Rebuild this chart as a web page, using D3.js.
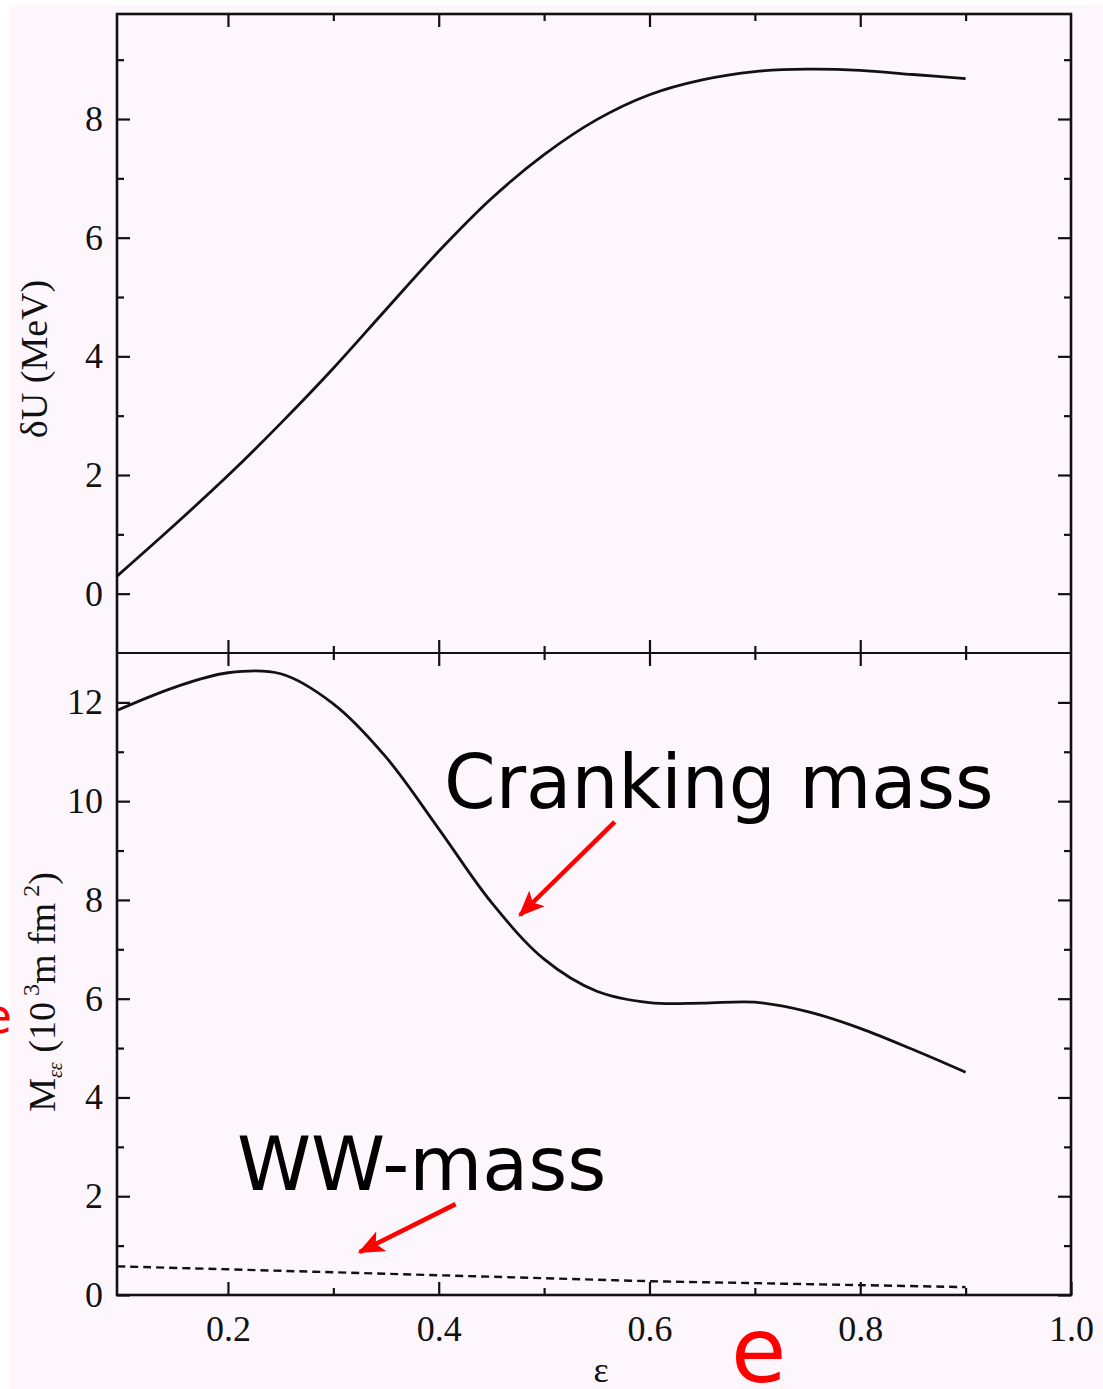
<!DOCTYPE html>
<html><head><meta charset="utf-8">
<script src="https://cdn.jsdelivr.net/npm/d3@7"></script>
<style>
body{margin:0;background:#ffffff;}
svg{display:block;}
.tick text{font-family:"Liberation Serif","Times New Roman",serif;font-size:36px;fill:#111;}
.tick line{stroke:#111;stroke-width:2.2px;}
</style>
</head><body>
<svg id="chart" width="1103" height="1389"></svg>
<script>
// ---------- data ----------
const epsilon = [0.095,0.15,0.20,0.25,0.30,0.35,0.40,0.45,0.50,0.55,0.60,0.65,0.70,0.75,0.80,0.85,0.90];
const deltaU = [0.30,1.17,1.99,2.87,3.80,4.79,5.77,6.66,7.40,7.99,8.41,8.66,8.80,8.84,8.82,8.75,8.68];
const crankingMass = [11.84,12.31,12.60,12.58,11.97,10.89,9.44,7.95,6.80,6.15,5.92,5.91,5.93,5.74,5.40,4.97,4.51];
const wwEpsilon = [0.095,0.20,0.30,0.40,0.50,0.60,0.70,0.80,0.90];
const wwMass = [0.58,0.52,0.46,0.40,0.34,0.28,0.24,0.20,0.16];
const xMajorTicks = [0.2,0.4,0.6,0.8,1.0];
const xTickLabels = ["0.2","0.4","0.6","0.8","1.0"];
const xMinorTicks = [0.3,0.5,0.7,0.9];
const topYMajor = [0,2,4,6,8];
const topYMinor = [1,3,5,7,9];
const botYMajor = [0,2,4,6,8,10,12];
const botYMinor = [1,3,5,7,9,11];

(function(){
// ---------- layout ----------
const svg = d3.select("#chart");
const W = 1103, H = 1389;
const pL = 117, pR = 1071, pT = 14, pM = 653, pB = 1295;

svg.append("rect").attr("x",10).attr("y",5).attr("width",W-10).attr("height",H-5).attr("fill","#fdf7fd");

const x = d3.scaleLinear().domain([0.0947,1.0]).range([pL,pR]);
const yTop = d3.scaleLinear().domain([-1,9.77]).range([pM,pT]);
const yBot = d3.scaleLinear().domain([0,13]).range([pB,pM]);

const MAJ = 13, MIN = 7;

function addAxis(axis, tx, ty){
  const g = svg.append("g").attr("transform",`translate(${tx},${ty})`).call(axis);
  g.select(".domain").remove();
  return g;
}
const xFmt = d => xTickLabels[xMajorTicks.indexOf(d)];

// top panel axes
addAxis(d3.axisLeft(yTop).tickValues(topYMajor).tickSize(-MAJ).tickPadding(14).tickFormat(d3.format("d")), pL, 0);
addAxis(d3.axisLeft(yTop).tickValues(topYMinor).tickSize(-MIN).tickFormat(""), pL, 0);
addAxis(d3.axisRight(yTop).tickValues(topYMajor).tickSize(-MAJ).tickFormat(""), pR, 0);
addAxis(d3.axisRight(yTop).tickValues(topYMinor).tickSize(-MIN).tickFormat(""), pR, 0);
addAxis(d3.axisTop(x).tickValues(xMajorTicks.slice(0,4)).tickSize(-MAJ).tickFormat(""), 0, pT);
addAxis(d3.axisTop(x).tickValues(xMinorTicks).tickSize(-MIN).tickFormat(""), 0, pT);
addAxis(d3.axisBottom(x).tickValues(xMajorTicks.slice(0,4)).tickSize(-MAJ).tickFormat(""), 0, pM);
addAxis(d3.axisBottom(x).tickValues(xMinorTicks).tickSize(-MIN).tickFormat(""), 0, pM);

// bottom panel axes
addAxis(d3.axisLeft(yBot).tickValues(botYMajor).tickSize(-MAJ).tickPadding(14).tickFormat(d3.format("d")), pL, 0);
addAxis(d3.axisLeft(yBot).tickValues(botYMinor).tickSize(-MIN).tickFormat(""), pL, 0);
addAxis(d3.axisRight(yBot).tickValues(botYMajor).tickSize(-MAJ).tickFormat(""), pR, 0);
addAxis(d3.axisRight(yBot).tickValues(botYMinor).tickSize(-MIN).tickFormat(""), pR, 0);
addAxis(d3.axisTop(x).tickValues(xMajorTicks.slice(0,4)).tickSize(-MAJ).tickFormat(""), 0, pM);
addAxis(d3.axisTop(x).tickValues(xMinorTicks).tickSize(-MIN).tickFormat(""), 0, pM);
addAxis(d3.axisBottom(x).tickValues(xMajorTicks).tickSize(-MAJ).tickPadding(20).tickFormat(xFmt), 0, pB);
addAxis(d3.axisBottom(x).tickValues(xMinorTicks).tickSize(-MIN).tickFormat(""), 0, pB);

// frames
svg.append("rect").attr("x",pL).attr("y",pT).attr("width",pR-pL).attr("height",pB-pT)
  .attr("fill","none").attr("stroke","#111").attr("stroke-width",2.6);
svg.append("line").attr("x1",pL).attr("x2",pR).attr("y1",pM).attr("y2",pM)
  .attr("stroke","#111").attr("stroke-width",2.2);

// curves
const lineTop = d3.line().x((d,i)=>x(epsilon[i])).y(d=>yTop(d)).curve(d3.curveCatmullRom.alpha(0.5));
const lineBot = d3.line().x((d,i)=>x(epsilon[i])).y(d=>yBot(d)).curve(d3.curveCatmullRom.alpha(0.5));
const lineWW = d3.line().x((d,i)=>x(wwEpsilon[i])).y(d=>yBot(d)).curve(d3.curveCatmullRom.alpha(0.5));

svg.append("path").attr("d",lineTop(deltaU)).attr("fill","none").attr("stroke","#111").attr("stroke-width",2.8);
svg.append("path").attr("d",lineBot(crankingMass)).attr("fill","none").attr("stroke","#111").attr("stroke-width",2.8);
svg.append("path").attr("d",lineWW(wwMass)).attr("fill","none").attr("stroke","#111").attr("stroke-width",2.4)
  .attr("stroke-dasharray","8,5");

// axis titles
const serif = '"Liberation Serif","Times New Roman",serif';
svg.append("text").attr("transform","translate(47,359) rotate(-90)").attr("text-anchor","middle")
  .attr("font-family",serif).attr("font-size",38).attr("fill","#111").text("δU (MeV)");

const t2 = svg.append("text").attr("transform","translate(55,992) rotate(-90)").attr("text-anchor","middle")
  .attr("font-family",serif).attr("font-size",38).attr("fill","#111");
t2.append("tspan").text("M");
t2.append("tspan").attr("font-size",20).attr("font-style","italic").attr("dy",7).text("εε");
t2.append("tspan").attr("dy",-7).text(" (10");
t2.append("tspan").attr("font-size",24).attr("dy",-16).text(" 3");
t2.append("tspan").attr("dy",16).text("m fm");
t2.append("tspan").attr("font-size",24).attr("dy",-16).text(" 2");
t2.append("tspan").attr("dy",16).text(")");

svg.append("text").attr("x",601).attr("y",1382).attr("text-anchor","middle")
  .attr("font-family",serif).attr("font-size",36).attr("fill","#111").text("ε");

// annotations
const sans = '"DejaVu Sans",Verdana,sans-serif';
svg.append("text").attr("x",x(0.405)).attr("y",yBot(9.86)).attr("font-family",sans).attr("font-size",74)
  .attr("fill","#000").text("Cranking mass");
svg.append("text").attr("x",x(0.2085)).attr("y",yBot(2.13)).attr("font-family",sans).attr("font-size",75)
  .attr("fill","#000").text("WW-mass");

const defs = svg.append("defs");
defs.append("marker").attr("id","ah").attr("markerUnits","userSpaceOnUse")
  .attr("markerWidth",26).attr("markerHeight",22).attr("refX",24).attr("refY",11).attr("orient","auto")
  .append("path").attr("d","M0,0 L26,11 L0,22 L6,11 Z").attr("fill","#ff0000");

svg.append("line").attr("x1",x(0.567)).attr("y1",yBot(9.58)).attr("x2",x(0.477)).attr("y2",yBot(7.69))
  .attr("stroke","#ff0000").attr("stroke-width",4.5).attr("marker-end","url(#ah)");
svg.append("line").attr("x1",x(0.416)).attr("y1",yBot(1.84)).attr("x2",x(0.325)).attr("y2",yBot(0.87))
  .attr("stroke","#ff0000").attr("stroke-width",4.5).attr("marker-end","url(#ah)");

svg.append("text").attr("x",731).attr("y",1382).attr("font-family",sans).attr("font-size",90)
  .attr("fill","#ff0000").text("e");
svg.append("text").attr("x",12).attr("y",1033).attr("text-anchor","end").attr("font-family",sans).attr("font-size",48)
  .attr("fill","#ff0000").text("e");
})();
</script>
</body></html>
